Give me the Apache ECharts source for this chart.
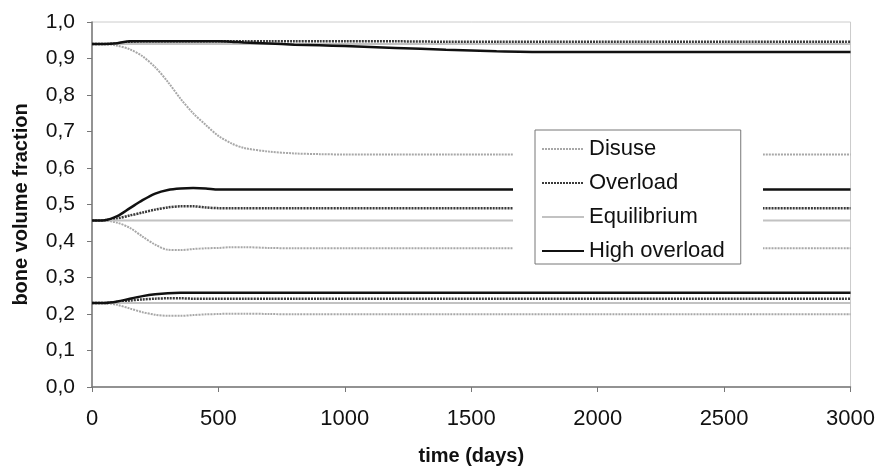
<!DOCTYPE html>
<html>
<head>
<meta charset="utf-8">
<script src="https://cdn.jsdelivr.net/npm/echarts@6/dist/echarts.min.js"></script>
<style>html,body{margin:0;padding:0;background:#fff}#c{width:878px;height:471px}</style>
</head>
<body>
<div id="c"></div>
<script>
// time points (days)
var times = [0, 50, 100, 150, 200, 250, 300, 350, 400, 450, 500, 550, 600, 700, 800, 900, 1000, 1200, 1400, 1600, 1800, 2000, 2500, 3000];
// top group (start 0.94)
var disuseTop   = [0.94, 0.94, 0.935, 0.925, 0.906, 0.876, 0.836, 0.79, 0.75, 0.718, 0.688, 0.668, 0.655, 0.645, 0.64, 0.638, 0.637, 0.637, 0.637, 0.637, 0.637, 0.637, 0.637, 0.637];
var overloadTop = [0.94, 0.94, 0.941, 0.946, 0.947, 0.947, 0.947, 0.947, 0.947, 0.947, 0.947, 0.947, 0.947, 0.947, 0.947, 0.947, 0.947, 0.947, 0.946, 0.946, 0.946, 0.946, 0.946, 0.946];
var equilTop    = [0.94, 0.94, 0.94, 0.94, 0.94, 0.94, 0.94, 0.94, 0.94, 0.94, 0.94, 0.94, 0.94, 0.94, 0.94, 0.94, 0.94, 0.94, 0.94, 0.94, 0.94, 0.94, 0.94, 0.94];
var highTop     = [0.94, 0.94, 0.942, 0.947, 0.947, 0.947, 0.947, 0.947, 0.947, 0.947, 0.947, 0.946, 0.944, 0.941, 0.938, 0.936, 0.934, 0.929, 0.924, 0.92, 0.918, 0.918, 0.918, 0.918];
// middle group (start 0.456)
var disuseMid   = [0.456, 0.456, 0.45, 0.436, 0.412, 0.39, 0.376, 0.375, 0.378, 0.38, 0.381, 0.383, 0.383, 0.381, 0.38, 0.38, 0.38, 0.38, 0.38, 0.38, 0.38, 0.38, 0.38, 0.38];
var overloadMid = [0.456, 0.457, 0.462, 0.47, 0.478, 0.486, 0.492, 0.495, 0.495, 0.492, 0.49, 0.49, 0.49, 0.49, 0.49, 0.49, 0.49, 0.49, 0.49, 0.49, 0.49, 0.49, 0.49, 0.49];
var equilMid    = [0.456, 0.456, 0.456, 0.456, 0.456, 0.456, 0.456, 0.456, 0.456, 0.456, 0.456, 0.456, 0.456, 0.456, 0.456, 0.456, 0.456, 0.456, 0.456, 0.456, 0.456, 0.456, 0.456, 0.456];
var highMid     = [0.456, 0.457, 0.468, 0.49, 0.512, 0.53, 0.54, 0.544, 0.545, 0.544, 0.541, 0.541, 0.541, 0.541, 0.541, 0.541, 0.541, 0.541, 0.541, 0.541, 0.541, 0.541, 0.541, 0.541];
// bottom group (start 0.23)
var disuseLow   = [0.23, 0.23, 0.225, 0.215, 0.205, 0.198, 0.195, 0.195, 0.197, 0.199, 0.2, 0.201, 0.201, 0.2, 0.199, 0.199, 0.199, 0.199, 0.199, 0.199, 0.199, 0.199, 0.199, 0.199];
var overloadLow = [0.23, 0.23, 0.233, 0.237, 0.24, 0.242, 0.243, 0.243, 0.242, 0.242, 0.242, 0.242, 0.242, 0.242, 0.242, 0.242, 0.242, 0.242, 0.242, 0.242, 0.242, 0.242, 0.242, 0.242];
var equilLow    = [0.23, 0.23, 0.23, 0.23, 0.23, 0.23, 0.23, 0.23, 0.23, 0.23, 0.23, 0.23, 0.23, 0.23, 0.23, 0.23, 0.23, 0.23, 0.23, 0.23, 0.23, 0.23, 0.23, 0.23];
var highLow     = [0.23, 0.23, 0.234, 0.242, 0.249, 0.254, 0.257, 0.258, 0.258, 0.258, 0.258, 0.258, 0.258, 0.258, 0.258, 0.258, 0.258, 0.258, 0.258, 0.258, 0.258, 0.258, 0.258, 0.258];

var yTickLabels = ['0,0','0,1','0,2','0,3','0,4','0,5','0,6','0,7','0,8','0,9','1,0'];
var legendNames = ['Disuse', 'Overload', 'Equilibrium', 'High overload'];

function pairs(vals) { return times.map(function (t, i) { return [t, vals[i]]; }); }

var styles = {
  'Disuse':        { color: '#a8a8a8', width: 2,   type: [2, 1] },
  'Overload':      { color: '#3a3a3a', width: 2.5, type: [2, 1] },
  'Equilibrium':   { color: '#c2c2c2', width: 2,   type: 'solid' },
  'High overload': { color: '#111111', width: 2.5, type: 'solid' }
};

var groups = [
  ['Disuse', disuseTop], ['Overload', overloadTop], ['Equilibrium', equilTop], ['High overload', highTop],
  ['Disuse', disuseMid], ['Overload', overloadMid], ['Equilibrium', equilMid], ['High overload', highMid],
  ['Disuse', disuseLow], ['Overload', overloadLow], ['Equilibrium', equilLow], ['High overload', highLow]
];

var series = groups.map(function (g) {
  var s = styles[g[0]];
  return {
    name: g[0], type: 'line', data: pairs(g[1]), symbol: 'none', smooth: 0.3,
    lineStyle: { color: s.color, width: s.width, type: s.type },
    itemStyle: { color: s.color }, z: 2, animation: false
  };
});

var font = 'Liberation Sans, Arial, sans-serif';
var chart = echarts.init(document.getElementById('c'));
chart.setOption({
  animation: false,
  backgroundColor: '#fff',
  grid: { left: 92, right: 26, top: 22, bottom: 83, show: true, borderColor: '#cccccc', borderWidth: 1, backgroundColor: 'transparent' },
  xAxis: {
    type: 'value', min: 0, max: 3000, interval: 500,
    name: 'time (days)', nameLocation: 'middle', nameGap: 59,
    nameTextStyle: { fontFamily: font, fontSize: 20, fontWeight: 'bold', color: '#111' },
    axisLine: { show: true, lineStyle: { color: '#777', width: 1.5 } },
    axisTick: { show: true, length: 5, lineStyle: { color: '#777' } },
    axisLabel: { fontFamily: font, fontSize: 22, color: '#111', margin: 21,
      formatter: function (v) { return String(v); } },
    splitLine: { show: false }
  },
  yAxis: {
    type: 'value', min: 0, max: 1, interval: 0.1,
    name: 'bone volume fraction', nameLocation: 'middle', nameGap: 61,
    nameTextStyle: { fontFamily: font, fontSize: 20, fontWeight: 'bold', color: '#111' },
    axisLine: { show: true, lineStyle: { color: '#777', width: 1.5 } },
    axisTick: { show: true, length: 5, lineStyle: { color: '#777' } },
    axisLabel: { fontFamily: font, fontSize: 21, color: '#111', margin: 17,
      formatter: function (v) { return yTickLabels[Math.round(v * 10)]; } },
    splitLine: { show: false }
  },
  graphic: [{
    type: 'rect', left: 513, top: 118, shape: { width: 250, height: 160 },
    style: { fill: '#fff' }, z: 3, silent: true
  }],
  legend: {
    data: legendNames, orient: 'vertical', left: 535, top: 130,
    padding: [8, 16, 2, 6], itemGap: 12, itemWidth: 42, itemHeight: 22,
    backgroundColor: '#fff', borderColor: '#777', borderWidth: 1, borderRadius: 0,
    itemStyle: { opacity: 0 },
    textStyle: { fontFamily: font, fontSize: 22, color: '#111' },
    z: 5
  },
  series: series
});
</script>
</body>
</html>
